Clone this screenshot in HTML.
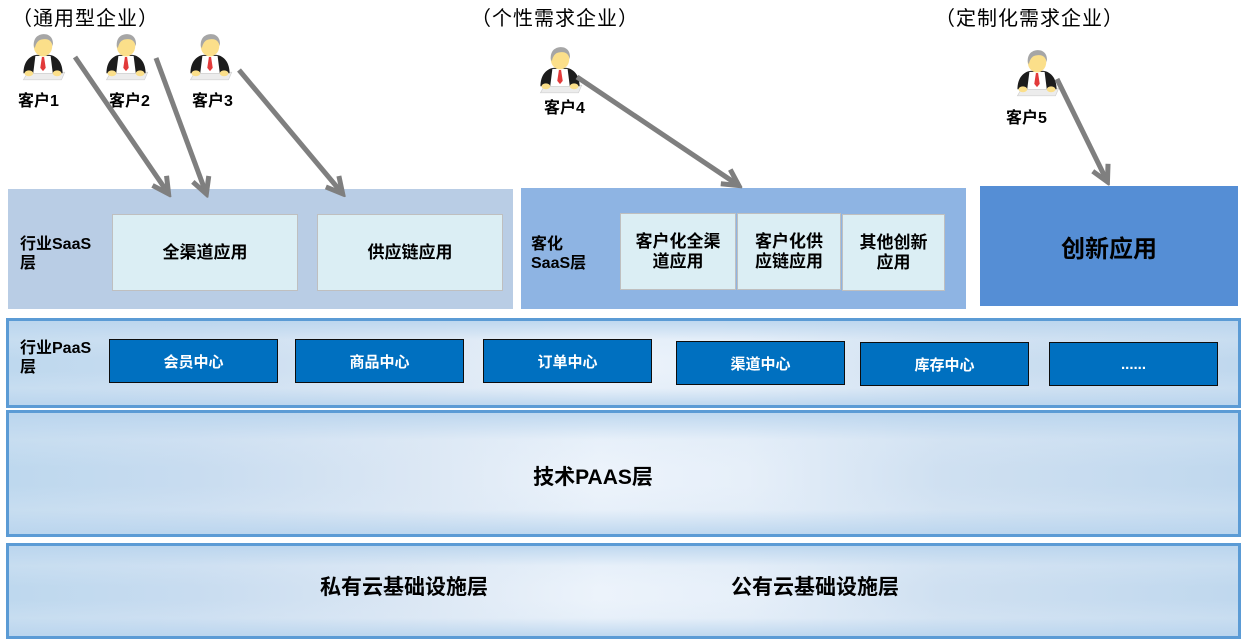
<!DOCTYPE html>
<html><head><meta charset="utf-8">
<style>
*{margin:0;padding:0;box-sizing:border-box}
body{width:1241px;height:639px;background:#fff;position:relative;overflow:hidden;font-family:"Liberation Sans","Noto Sans CJK SC",sans-serif;color:#000}
.a{position:absolute}
.t{font-size:20px;font-weight:normal;white-space:nowrap;line-height:22px;letter-spacing:1px}
.c{font-size:16px;font-weight:bold;white-space:nowrap;line-height:18px}
.box{position:absolute;display:flex;align-items:center;justify-content:center;text-align:center;font-weight:bold}
.lt{background:#dbeef4;border:1.5px solid #bfbfbf;font-size:17px;line-height:20px}
.bl{background:#0070c0;border:1px solid #0d0d0d;color:#fff;font-size:15px}
.band{position:absolute;border:3px solid #5b9bd5;
background:
linear-gradient(to bottom, rgba(186,213,238,0.9) 0%, rgba(220,233,246,0.3) 22%, rgba(255,255,255,0) 45%, rgba(255,255,255,0) 60%, rgba(220,233,246,0.3) 80%, rgba(186,213,238,0.9) 100%),
linear-gradient(to right, #bed8ee 0%, #c8dcf0 15%, #dbe7f4 33%, #ecf3fb 48%, #e6eff9 60%, #cfe0f1 76%, #c0d8ee 100%);}
.lbl{font-size:16px;font-weight:bold;line-height:19px;white-space:nowrap}
</style></head><body>

<!-- top titles -->
<div class="a t" style="left:12px;top:8px">（通用型企业）</div>
<div class="a t" style="left:471px;top:8px">（个性需求企业）</div>
<div class="a t" style="left:935px;top:8px">（定制化需求企业）</div>

<!-- client labels -->
<div class="a c" style="left:18px;top:93px">客户1</div>
<div class="a c" style="left:109px;top:93px">客户2</div>
<div class="a c" style="left:192px;top:93px">客户3</div>
<div class="a c" style="left:544px;top:100px">客户4</div>
<div class="a c" style="left:1006px;top:110px">客户5</div>

<!-- SaaS band 1 -->
<div class="a" style="left:8px;top:189px;width:505px;height:120px;background:#b9cde5"></div>
<div class="a lbl" style="left:20px;top:235px">行业SaaS<br>层</div>
<div class="box lt" style="left:112px;top:214px;width:186px;height:77px">全渠道应用</div>
<div class="box lt" style="left:317px;top:214px;width:186px;height:77px">供应链应用</div>

<!-- SaaS band 2 -->
<div class="a" style="left:521px;top:188px;width:445px;height:121px;background:#8eb4e3"></div>
<div class="a lbl" style="left:531px;top:235px">客化<br>SaaS层</div>
<div class="box lt" style="left:620px;top:213px;width:116px;height:77px">客户化全渠<br>道应用</div>
<div class="box lt" style="left:737px;top:213px;width:104px;height:77px">客户化供<br>应链应用</div>
<div class="box lt" style="left:842px;top:214px;width:103px;height:77px">其他创新<br>应用</div>

<!-- 创新应用 -->
<div class="box" style="left:980px;top:186px;width:258px;height:120px;background:#558ed5;font-size:24px">创新应用</div>

<!-- PaaS band -->
<div class="band" style="left:6px;top:318px;width:1235px;height:90px"></div>
<div class="a lbl" style="left:20px;top:339px">行业PaaS<br>层</div>
<div class="box bl" style="left:109px;top:339px;width:169px;height:44px">会员中心</div>
<div class="box bl" style="left:295px;top:339px;width:169px;height:44px">商品中心</div>
<div class="box bl" style="left:483px;top:339px;width:169px;height:44px">订单中心</div>
<div class="box bl" style="left:676px;top:341px;width:169px;height:44px">渠道中心</div>
<div class="box bl" style="left:860px;top:342px;width:169px;height:44px">库存中心</div>
<div class="box bl" style="left:1049px;top:342px;width:169px;height:44px">......</div>

<!-- Tech PAAS band -->
<div class="band" style="left:6px;top:410px;width:1235px;height:127px"></div>
<div class="a" style="left:0;top:466px;width:1186px;text-align:center;font-size:21px;font-weight:bold;line-height:24px">技术PAAS层</div>

<!-- infra band -->
<div class="band" style="left:6px;top:543px;width:1235px;height:96px"></div>
<div class="a" style="left:320px;top:576px;font-size:21px;font-weight:bold;line-height:24px;white-space:nowrap">私有云基础设施层</div>
<div class="a" style="left:731px;top:576px;font-size:21px;font-weight:bold;line-height:24px;white-space:nowrap">公有云基础设施层</div>

<!-- icons and arrows -->
<svg class="a" style="left:0;top:0" width="1241" height="639" viewBox="0 0 1241 639">
<defs>
<symbol id="p" viewBox="0 0 44 46">
 <path d="M8,37 L42,37 L39,44 L4,44 Z" fill="#ececec" stroke="#cfcfcf" stroke-width="0.6"/>
 <path d="M4,38 C4,28 9,22 16,21 L28,21 C35,22 40,28 40,38 Z" fill="#1c1c1c"/>
 <path d="M15,22 L29,22 L31,38 L13,38 Z" fill="#fff"/>
 <path d="M21,23 L23,23 L24.5,33 L22,36 L19.5,33 Z" fill="#e23a3a"/>
 <ellipse cx="22" cy="13" rx="8.5" ry="9.5" fill="#fbdf8a"/>
 <path d="M13.5,13 C13,4 19,2 23,2 C29,2 32,7 31,13 C30,9 28,6.5 24,6.5 C19,6.5 16,8 14.5,15 Z" fill="#a6a6a6"/>
 <ellipse cx="9" cy="38" rx="4" ry="2.7" fill="#fbdf8a"/>
 <ellipse cx="35" cy="38" rx="4" ry="2.7" fill="#fbdf8a"/>
</symbol>
<marker id="ah" viewBox="0 0 22 22" refX="17" refY="11" markerWidth="22" markerHeight="22" markerUnits="userSpaceOnUse" orient="auto">
 <path d="M2,2.5 L18,11 L2,19.5" fill="none" stroke="#7f7f7f" stroke-width="5" stroke-linejoin="miter"/>
</marker>
</defs>
<use href="#p" x="19" y="32" width="48" height="50"/>
<use href="#p" x="102" y="32" width="48" height="50"/>
<use href="#p" x="186" y="32" width="48" height="50"/>
<use href="#p" x="536" y="45" width="48" height="50"/>
<use href="#p" x="1013" y="48" width="48" height="50"/>
<g stroke="#7f7f7f" stroke-width="5" fill="none" marker-end="url(#ah)">
 <line x1="75" y1="57" x2="168" y2="193"/>
 <line x1="156" y1="58" x2="206" y2="193"/>
 <line x1="239" y1="70" x2="342" y2="193"/>
 <line x1="577" y1="77" x2="738" y2="185"/>
 <line x1="1057" y1="79" x2="1107" y2="181"/>
</g>
</svg>
</body></html>
